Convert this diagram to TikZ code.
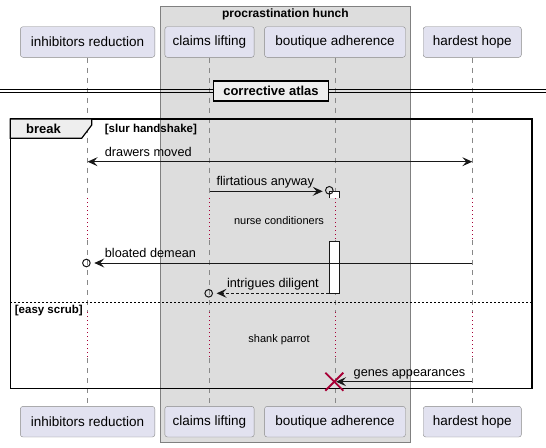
\documentclass[tikz,border=0pt]{standalone}
\usepackage{fontspec}
\setmainfont{Liberation Sans}
\usetikzlibrary{arrows.meta}
\definecolor{partfill}{HTML}{E2E2F0}
\definecolor{partborder}{HTML}{888888}
\definecolor{grpfill}{HTML}{DDDDDD}
\definecolor{grpborder}{HTML}{808080}
\definecolor{lifecol}{HTML}{888888}
\definecolor{delaycol}{HTML}{A80036}
\definecolor{arrcol}{HTML}{181818}
\definecolor{tabfill}{HTML}{EEEEEE}
\tikzset{
  part/.style={draw=partborder, fill=partfill, rounded corners=2.5pt, minimum height=30.6pt, inner sep=0pt, font=\fontsize{13.5}{16}\selectfont},
  life/.style={draw=lifecol, line width=0.8pt, dash pattern=on 5pt off 5pt},
  delayline/.style={draw=delaycol, line width=0.9pt, dash pattern=on 1pt off 3pt},
  msg/.style={draw=arrcol, line width=0.9pt},
  head/.tip={Stealth[length=10pt, width=9pt, inset=4pt]},
  circ/.style={circle, draw=arrcol, line width=1pt, minimum size=7.6pt, inner sep=0pt},
  lbl/.style={anchor=base west, inner sep=0pt, font=\fontsize{12.7}{15}\selectfont},
  dlbl/.style={inner sep=0pt, font=\fontsize{11}{13}\selectfont},
  bold/.style={inner sep=0pt, font=\fontsize{11.5}{14}\selectfont\bfseries},
}
\newcommand\mylifeline[2]{%
  \draw[life] (#1.south) -- (#1.south |- 0,198);
  \draw[delayline] (#1.south |- 0,198) -- (#1.south |- 0,240);
  \draw[life] (#1.south |- 0,240) -- (#1.south |- 0,312);
  \draw[delayline] (#1.south |- 0,312) -- (#1.south |- 0,358);
  \draw[life] (#1.south |- 0,358) -- (#2.north);
}
\begin{document}
\begin{tikzpicture}[x=1pt, y=-1pt]
\useasboundingbox (0,0) rectangle (546,447);
% group box
\draw[fill=grpfill, draw=grpborder, line width=0.9pt] (160.7,6.7) rectangle (410,442.3);
\node[bold, font=\fontsize{12}{14}\selectfont\bfseries] (gtitle) at (285.4,14.5) {procrastination hunch};
% participants
\node[part, minimum width=134.4pt] (inhT) at (87.6,42) {inhibitors reduction};
\node[part, minimum width=89.3pt] (claT) at (209.5,42) {claims lifting};
\node[part, minimum width=140.9pt] (bouT) at (335,42) {boutique adherence};
\node[part, minimum width=98.1pt] (harT) at (472.3,42) {hardest hope};
\node[part, minimum width=134.4pt] (inhB) at (87.6,421.7) {inhibitors reduction};
\node[part, minimum width=89.3pt] (claB) at (209.5,421.7) {claims lifting};
\node[part, minimum width=140.9pt] (bouB) at (335,421.7) {boutique adherence};
\node[part, minimum width=98.1pt] (harB) at (472.3,421.7) {hardest hope};
% lifelines
\mylifeline{inhT}{inhB}
\mylifeline{claT}{claB}
\mylifeline{bouT}{bouB}
\mylifeline{harT}{harB}
% divider
\draw[black, line width=0.8pt] (0,89.3) -- (546,89.3);
\draw[black, line width=0.8pt] (0,92.7) -- (546,92.7);
\node[draw=black, fill=tabfill, line width=1.6pt, minimum width=115pt, minimum height=20.5pt, inner sep=0pt, font=\fontsize{13}{15}\selectfont\bfseries] (div) at (271,91) {corrective atlas};
% frame
\draw[black, line width=1.6pt] (10.3,119) rectangle (532,388.5);
\draw[black, fill=tabfill, line width=1.2pt] (10.3,119) -- (91.7,119) -- (91.7,125) -- (81.7,138.3) -- (10.3,138.3) -- cycle;
\node[bold, font=\fontsize{13}{15}\selectfont\bfseries] (brk) at (43.5,129) {break};
\node[bold, anchor=west] (g1) at (104.7,129.5) {[slur handshake]};
\draw[black, line width=0.8pt, dash pattern=on 2pt off 2pt] (10.3,302.3) -- (532,302.3);
\node[bold, anchor=west] (g2) at (14.7,311) {[easy scrub]};
% activation
\fill[white] (329.3,191) rectangle (339.3,198);
\draw[arrcol, line width=0.9pt] (329.3,198) -- (329.3,191) -- (339.3,191) -- (339.3,198);
\node[draw=arrcol, fill=white, line width=0.9pt, minimum width=10pt, minimum height=52.3pt, inner sep=0pt] (act) at (334.3,267.2) {};
% messages
\draw[msg, {head}-{head}] (inhT.south |- 0,161.7) -- (harT.south |- 0,161.7);
\node[lbl] (m1) at (104.7,156.2) {drawers moved};
\node[circ] (c1) at (329.3,190.3) {};
\draw[msg, -{head}] (claT.south |- 0,191.3) -- ([xshift=-2.3pt]c1.west |- 0,191.3);
\node[lbl] (m2) at (216.3,185.6) {flirtatious anyway};
\node[dlbl] (d1) at (279,220.7) {nurse conditioners};
\node[circ] (c2) at (86.4,263) {};
\draw[msg, -{head}] (harT.south |- 0,263) -- ([xshift=3.6pt]c2.east);
\node[lbl] (m3) at (104.7,257.3) {bloated demean};
\node[circ] (c3) at (208.7,293.3) {};
\draw[msg, dash pattern=on 3pt off 2pt, -{head[sep=0pt]}] (act.south west |- 0,293.3) -- ([xshift=3.6pt]c3.east);
\node[lbl] (m4) at (226.8,287.6) {intrigues diligent};
\node[dlbl] (d2) at (279,339.3) {shank parrot};
\coordinate (xc) at (334.3,381.7);
\draw[msg, -{head}] (harT.south |- 0,381.7) -- ([xshift=1.8pt]xc);
\draw[delaycol, line width=1.8pt] ([shift={(-9,-9)}]xc) -- ([shift={(9,9)}]xc);
\draw[delaycol, line width=1.8pt] ([shift={(-9,9)}]xc) -- ([shift={(9,-9)}]xc);
\node[lbl] (m5) at (353.5,376) {genes appearances};
\end{tikzpicture}
\end{document}
